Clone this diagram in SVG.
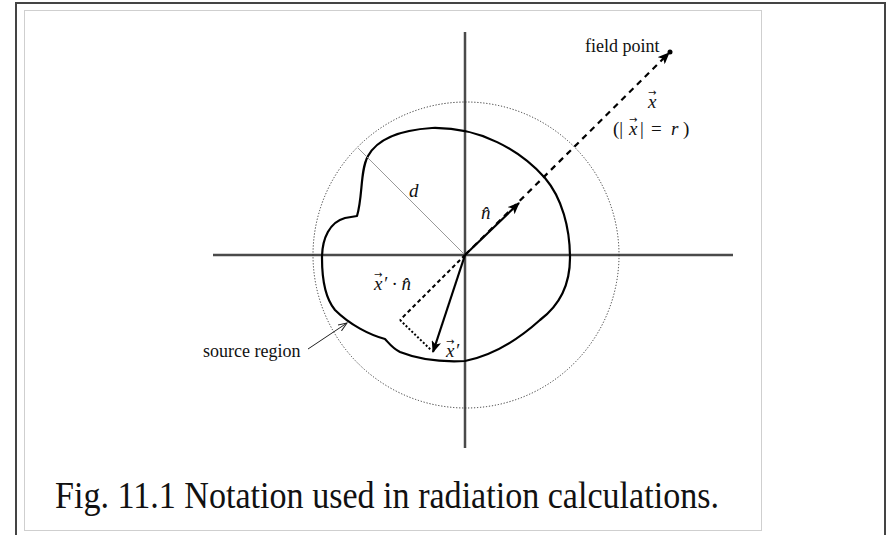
<svg xmlns="http://www.w3.org/2000/svg" width="888" height="535" viewBox="0 0 888 535">
<style>
.lbl{font-family:"Liberation Serif","DejaVu Serif",serif;fill:#111;}
.it{font-style:italic;}
.acc{font-family:"DejaVu Sans","Liberation Sans",sans-serif;font-style:normal;font-size:10px;}
.axis{stroke:#4a4a4a;stroke-width:2.5;fill:none;}
.vec{stroke:#000;stroke-width:2.2;fill:none;}
</style>
<defs>
<marker id="ah" markerWidth="14" markerHeight="10" refX="11" refY="5" orient="auto" markerUnits="userSpaceOnUse">
<path d="M0,0 L12,5 L0,10 L3,5 Z" fill="#000"/>
</marker>
<marker id="ahs" markerWidth="10" markerHeight="8" refX="9" refY="4" orient="auto" markerUnits="userSpaceOnUse">
<path d="M0,0.5 L9,4 L0,7.5" fill="none" stroke="#222" stroke-width="1"/>
</marker>
</defs>
<rect width="888" height="535" fill="#fff"/>
<g id="frame">
<path d="M16,535 V3 H885 V535" fill="none" stroke="#444" stroke-width="2"/>
<rect x="24.5" y="10.5" width="737" height="520" fill="none" stroke="#cfcfcf" stroke-width="1"/>
</g>
<g id="axes">
<line class="axis" x1="213" y1="255" x2="733" y2="255"/>
<line class="axis" x1="465" y1="32" x2="465" y2="448"/>
</g>
<g id="sphere">
<circle cx="466" cy="255" r="153" fill="none" stroke="#333" stroke-width="1" stroke-dasharray="1.2,1.8"/>
</g>
<g id="source-region">
<path d="M357,216 C363,196 360,170 368,156 C378,138 400,130 432,128 C480,127 520,150 545,178 C562,198 570,228 570,258 C570,285 560,305 540,320 C520,338 495,355 465,361 C445,362 420,360 400,352 C392,348 388,342 385,339 C370,335 350,325 335,310 C325,298 322,280 322,258 C322,238 330,222 345,218 Z" fill="none" stroke="#000" stroke-width="2.2" stroke-linejoin="round"/>
</g>
<g id="connectors">
<line x1="358" y1="148" x2="465" y2="255" stroke="#999" stroke-width="1"/>
<line x1="465" y1="255" x2="669" y2="53" stroke="#000" stroke-width="2.2" stroke-dasharray="6,5" marker-end="url(#ah)"/>
<line class="vec" x1="465" y1="255" x2="519" y2="203" marker-end="url(#ah)"/>
<line class="vec" x1="465" y1="255" x2="433" y2="352" marker-end="url(#ah)"/>
<line x1="465" y1="255" x2="400" y2="320" stroke="#000" stroke-width="2" stroke-dasharray="4,3"/>
<line x1="400" y1="320" x2="431" y2="350" stroke="#000" stroke-width="2" stroke-dasharray="2,2"/>
<line x1="308" y1="349" x2="347" y2="323" stroke="#222" stroke-width="1" marker-end="url(#ahs)"/>
</g>
<g id="field-point">
<circle cx="670" cy="52" r="2.5" fill="#000"/>
<text class="lbl" x="585" y="52" font-size="18">field point</text>
</g>
<g id="labels">
<text class="lbl it" font-size="19"><tspan x="648" y="108">x</tspan><tspan class="acc" x="648" y="96">→</tspan></text>
<text class="lbl" font-size="19"><tspan x="613" y="135">(|</tspan><tspan x="629" y="135" font-style="italic">x</tspan><tspan class="acc" x="629" y="123">→</tspan><tspan x="640" y="135">|</tspan><tspan x="651" y="135">=</tspan><tspan x="671" y="135" font-style="italic">r</tspan><tspan x="683" y="135">)</tspan></text>
<text class="lbl it" x="409" y="197" font-size="19">d</text>
<text class="lbl it" x="481" y="219" font-size="19">n̂</text>
<text class="lbl it" font-size="19"><tspan x="374" y="290">x</tspan><tspan class="acc" x="374" y="278">→</tspan><tspan x="383" y="290">′ · n̂</tspan></text>
<text class="lbl it" font-size="19"><tspan x="446" y="357">x</tspan><tspan class="acc" x="446" y="345">→</tspan><tspan x="455" y="357">′</tspan></text>
<text class="lbl" x="203" y="357" font-size="18">source region</text>
</g>
<g id="caption">
<text class="lbl" x="55" y="508" font-size="37" textLength="664" lengthAdjust="spacingAndGlyphs">Fig. 11.1 Notation used in radiation calculations.</text>
</g>
</svg>
